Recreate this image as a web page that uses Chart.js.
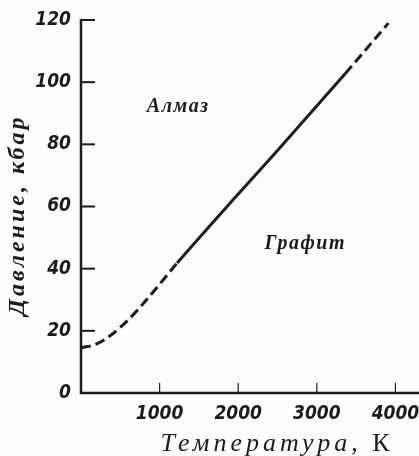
<!DOCTYPE html>
<html>
<head>
<meta charset="utf-8">
<script src="https://cdn.jsdelivr.net/npm/chart.js@4/dist/chart.umd.min.js"></script>
<style>
  html, body { margin: 0; padding: 0; background: #fdfdfd; }
  #wrap { width: 419px; height: 456px; }
</style>
</head>
<body>
<div id="wrap"><canvas id="phaseChart" width="419" height="456"></canvas></div>
<script>
// phase boundary diamond / graphite
const temps = [0, 200, 400, 600, 800, 1000, 1223, 2000, 2500, 3363, 3911];
const pressures = [14.5, 15.8, 19, 23.5, 29, 35, 41.8, 64, 78, 102.8, 119];
// the line is solid only between these temperatures, dashed elsewhere
const solidFrom = 1223;
const solidTo = 3363;

const xTicks = [1000, 2000, 3000, 4000];
const yTicks = [0, 20, 40, 60, 80, 100, 120];

const xTitle = 'Температура,';
const xUnit = 'К';
const yTitle = 'Давление, кбар';
const regionLabels = [
  { text: 'Алмаз', t: 1236, p: 92 },
  { text: 'Графит', t: 2853, p: 48 }
];

const ink = '#1c1c1c';
const tickFont = { family: "'Liberation Sans Narrow', 'DejaVu Sans Condensed', sans-serif", size: 19, style: 'italic', weight: 'bold' };

const decor = {
  id: 'decor',
  afterDraw(chart) {
    const { ctx, chartArea: a, scales: { x, y } } = chart;
    ctx.save();
    ctx.strokeStyle = ink;
    ctx.lineCap = 'butt';

    // axis lines
    ctx.lineWidth = 2.5;
    ctx.beginPath();
    ctx.moveTo(a.left, a.top - 1);
    ctx.lineTo(a.left, a.bottom);
    ctx.lineTo(a.right, a.bottom);
    ctx.stroke();

    // inward ticks
    ctx.lineWidth = 2;
    yTicks.forEach(v => {
      const py = y.getPixelForValue(v);
      ctx.beginPath();
      ctx.moveTo(a.left, py);
      ctx.lineTo(a.left + 14, py);
      ctx.stroke();
    });
    ctx.lineWidth = 1.2;
    xTicks.forEach(v => {
      const px = x.getPixelForValue(v);
      ctx.beginPath();
      ctx.moveTo(px, a.bottom);
      ctx.lineTo(px, a.bottom - 10);
      ctx.stroke();
    });

    ctx.fillStyle = ink;
    ctx.textBaseline = 'middle';

    // region labels
    ctx.font = "italic bold 20px 'Liberation Serif', serif";
    ctx.letterSpacing = '1.5px';
    ctx.textAlign = 'center';
    regionLabels.forEach(l => {
      ctx.fillText(l.text, x.getPixelForValue(l.t), y.getPixelForValue(l.p));
    });

    // x title
    ctx.letterSpacing = '4px';
    ctx.font = "italic 26px 'Liberation Serif', serif";
    ctx.textAlign = 'left';
    const w1 = ctx.measureText(xTitle + ' ').width;
    ctx.font = "26px 'Liberation Serif', serif";
    const w2 = ctx.measureText(xUnit).width;
    let sx = 277 - (w1 + w2) / 2;
    ctx.font = "italic 26px 'Liberation Serif', serif";
    ctx.fillText(xTitle + ' ', sx, 444);
    ctx.font = "26px 'Liberation Serif', serif";
    ctx.fillText(xUnit, sx + w1, 444);

    // y title
    ctx.letterSpacing = '3px';
    ctx.font = "italic bold 24px 'Liberation Serif', serif";
    ctx.textAlign = 'center';
    ctx.translate(18, 215);
    ctx.rotate(-Math.PI / 2);
    ctx.fillText(yTitle, 0, 0);

    ctx.restore();
  }
};

new Chart(document.getElementById('phaseChart'), {
  type: 'line',
  data: {
    labels: temps,
    datasets: [{
      data: temps.map((t, i) => ({ x: t, y: pressures[i] })),
      borderColor: ink,
      borderWidth: 3,
      pointRadius: 0,
      cubicInterpolationMode: 'monotone',
      fill: false,
      segment: {
        borderDash: c => (c.p1.parsed.x <= solidFrom || c.p0.parsed.x >= solidTo) ? [10, 5] : undefined
      }
    }]
  },
  options: {
    responsive: false,
    animation: false,
    layout: { padding: { top: 20, right: 0, left: 0, bottom: 0 } },
    plugins: {
      legend: { display: false },
      tooltip: { enabled: false }
    },
    scales: {
      x: {
        type: 'linear',
        min: 0,
        max: 4300,
        afterBuildTicks: s => { s.ticks = xTicks.map(v => ({ value: v })); },
        afterFit: s => { s.height = 63; s.paddingLeft = 0; s.paddingRight = 0; },
        border: { display: false },
        grid: { display: false, drawTicks: false },
        ticks: { color: ink, font: tickFont, padding: 10, maxRotation: 0, callback: v => String(v) }
      },
      y: {
        min: 0,
        max: 120,
        afterBuildTicks: s => { s.ticks = yTicks.map(v => ({ value: v })); },
        afterFit: s => { s.width = 81; s.paddingTop = 0; s.paddingBottom = 0; },
        border: { display: false },
        grid: { display: false, drawTicks: false },
        ticks: { color: ink, font: tickFont, padding: 10, callback: v => String(v) }
      }
    }
  },
  plugins: [decor]
});
</script>
</body>
</html>
